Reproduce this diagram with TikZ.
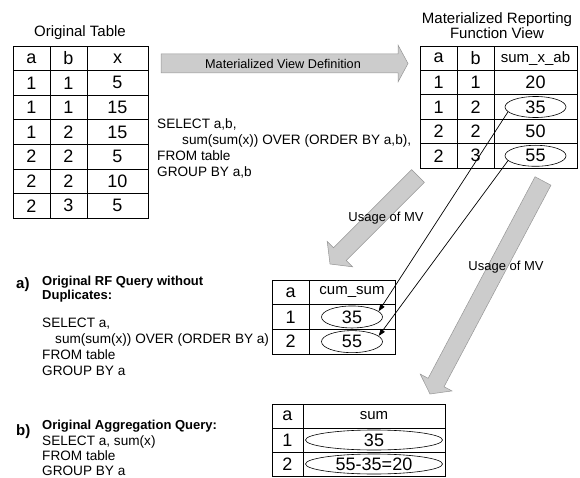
\documentclass[tikz,border=0pt]{standalone}
\usepackage{fontspec}
\setmainfont{Liberation Sans}
\usetikzlibrary{positioning,arrows.meta,calc,shapes.geometric}
\definecolor{mvgray}{RGB}{204,204,204}
\definecolor{mvedge}{RGB}{150,150,150}

% block arrow: tail, tip, half body, half head, head length
\newcommand\mvarrow[5]{%
  \path ($(#2)!#5!(#1)$) coordinate (ab);
  \draw[bigarrow] ($(#1)!#3!90:(#2)$) -- ($(ab)!#3!90:(#2)$) -- ($(ab)!#4!90:(#2)$)
    -- (#2) -- ($(ab)!#4!-90:(#2)$) -- ($(ab)!#3!-90:(#2)$) -- ($(#1)!#3!-90:(#2)$) -- cycle;}

\begin{document}
\begin{tikzpicture}[x=1pt, y=-1pt,
  cell/.style={draw, line width=.7pt, inner sep=0pt, outer sep=0pt,
               font=\fontsize{18}{18}\selectfont},
  hdr/.style={cell, font=\fontsize{15}{15}\selectfont},
  oval/.style={ellipse, draw, line width=.6pt, inner sep=0pt},
  link/.style={-{Triangle[length=7pt,width=5pt]}, line width=.7pt},
  bigarrow/.style={fill=mvgray, draw=mvedge, line width=.5pt},
  tag/.style={font=\fontsize{13}{15}\selectfont, inner sep=0pt},
  title/.style={font=\fontsize{15}{15}\selectfont, align=center, inner sep=0pt},
  sql/.style={font=\fontsize{13.6}{16}\selectfont, align=left, inner sep=0pt, anchor=north west},
  qhead/.style={font=\bfseries\fontsize{13}{13.5}\selectfont, align=left, inner sep=0pt, anchor=north west},
  qlabel/.style={font=\bfseries\fontsize{15}{15}\selectfont, inner sep=0pt, anchor=base west},
]
\useasboundingbox (0,0) rectangle (580,478);

% big gray arrows
\coordinate (defs) at (161,63.5);
\coordinate (defe) at (408,63.5);
\coordinate (use1s) at (418,176);
\coordinate (use1e) at (330,264);
\coordinate (use2s) at (543,181);
\coordinate (use2e) at (430,394);
\mvarrow{defs}{defe}{9.5pt}{18.5pt}{10pt}
\mvarrow{use1s}{use1e}{9pt}{18pt}{14pt}
\mvarrow{use2s}{use2e}{9pt}{18pt}{13pt}
\node[tag, font=\fontsize{12.7}{15}\selectfont] (mvdef) at (283,64) {Materialized View Definition};
\node[tag] (use1) at (386,218) {Usage of MV};
\node[tag] (use2) at (506,267) {Usage of MV};

% original table
\node[title] (ottitle) at (80,33) {Original Table};
\foreach \ca/\cb/\cx [count=\i from 0] in {a/b/x,1/1/5,1/1/15,1/2/15,2/2/5,2/2/10,2/3/5} {
  \node[cell, minimum width=37pt, minimum height=24.57pt] (ota\i) at (31.5,{58.3+24.57*\i}) {\ca};
  \node[cell, minimum width=37pt, minimum height=24.57pt, right=0pt of ota\i] (otb\i) {\cb};
  \node[cell, minimum width=61pt, minimum height=24.57pt, right=0pt of otb\i] (otx\i) {\cx};
}

\node[sql] (mvsql) at (157,118) {SELECT a,b,\\
  \hspace*{25pt}sum(sum(x)) OVER (ORDER BY a,b),\\
  FROM table\\
  GROUP BY a,b};

% materialized view
\node[title] (mvtitle) at (497,25.5) {Materialized Reporting\\Function View};
\node[cell, minimum width=37pt, minimum height=24.4pt] (mva0) at (438.5,58.2) {a};
\node[cell, minimum width=37pt, minimum height=24.4pt, right=0pt of mva0] (mvb0) {b};
\node[hdr, minimum width=83pt, minimum height=24.4pt, right=0pt of mvb0] (mvs0) {sum\_x\_ab};
\foreach \ca/\cb/\cs [count=\i from 1] in {1/1/20,1/2/35,2/2/50,2/3/55} {
  \node[cell, minimum width=37pt, minimum height=24.4pt] (mva\i) at (438.5,{58.2+24.4*\i}) {\ca};
  \node[cell, minimum width=37pt, minimum height=24.4pt, right=0pt of mva\i] (mvb\i) {\cb};
  \node[cell, minimum width=83pt, minimum height=24.4pt, right=0pt of mvb\i] (mvs\i) {\cs};
}
\node[oval, minimum width=61pt, minimum height=21pt] (mv35) at (mvs2) {};
\node[oval, minimum width=61pt, minimum height=21pt] (mv55) at (mvs4) {};

% a) query
\node[qlabel] (alab) at (16,288) {a)};
\node[qhead] (ahead) at (42,276) {Original RF Query without\\Duplicates:};
\node[sql] (asql) at (42,318) {SELECT a,\\
  \hspace*{13pt}sum(sum(x)) OVER (ORDER BY a)\\
  FROM table\\
  GROUP BY a};

\node[cell, minimum width=37pt, minimum height=24.67pt] (csa0) at (290.5,292.3) {a};
\node[hdr, minimum width=86pt, minimum height=24.67pt, right=0pt of csa0] (css0) {cum\_sum};
\foreach \ca/\cs [count=\i from 1] in {1/35,2/55} {
  \node[cell, minimum width=37pt, minimum height=24.67pt] (csa\i) at (290.5,{292.3+24.67*\i}) {\ca};
  \node[cell, minimum width=86pt, minimum height=24.67pt, right=0pt of csa\i] (css\i) {\cs};
}
\node[oval, minimum width=61pt, minimum height=22pt] (cs35) at (css1) {};
\node[oval, minimum width=61pt, minimum height=22pt] (cs55) at (css2) {};

\draw[link] (mv35.190) -- (cs35.12);
\draw[link] (mv55.190) -- (cs55.12);

% b) query
\node[qlabel] (blab) at (16,435) {b)};
\node[qhead] (bhead) at (42,420) {Original Aggregation Query:};
\node[sql, font=\fontsize{13.6}{15}\selectfont] (bsql) at (42,435) {SELECT a, sum(x)\\
  FROM table\\
  GROUP BY a};

\node[cell, minimum width=31pt, minimum height=24pt] (aga0) at (287.5,416) {a};
\node[hdr, minimum width=142pt, minimum height=24pt, right=0pt of aga0] (ags0) {sum};
\foreach \ca/\cs [count=\i from 1] in {1/35,2/55-35=20} {
  \node[cell, minimum width=31pt, minimum height=24pt] (aga\i) at (287.5,{416+24*\i}) {\ca};
  \node[cell, minimum width=142pt, minimum height=24pt, right=0pt of aga\i] (ags\i) {\cs};
}
\node[oval, minimum width=137pt, minimum height=20pt] (ag35) at (ags1) {};
\node[oval, minimum width=137pt, minimum height=20pt] (ag20) at (ags2) {};
\end{tikzpicture}
\end{document}
